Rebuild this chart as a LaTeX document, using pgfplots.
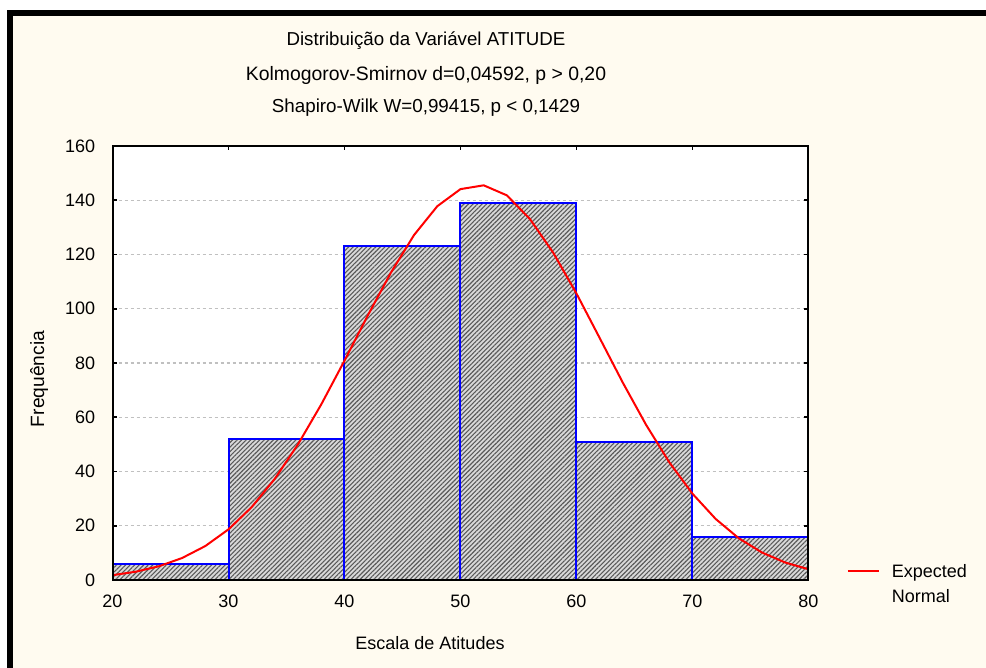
\documentclass[border=0pt]{standalone}
\usepackage{pgfplots}
\pgfplotsset{compat=1.18}
\usepackage{fontspec}
\setmainfont{Liberation Sans}
\usetikzlibrary{patterns.meta}
\definecolor{cream}{RGB}{255,251,240}
\definecolor{gridgray}{RGB}{192,192,192}
\begin{document}
\fontsize{9}{11}\selectfont
\begin{tikzpicture}
\fill[white] (0,0) rectangle (493pt,334pt);
\fill[cream] (3.5pt,0) rectangle (493pt,329pt);
\fill[black] (3.5pt,0) rectangle (6.5pt,329pt);
\fill[black] (3.5pt,326pt) rectangle (493pt,329pt);
\begin{axis}[
  at={(56.25pt,44pt)}, anchor=south west,
  scale only axis, width=348pt, height=217pt,
  xmin=20, xmax=80, ymin=0, ymax=160,
  xtick={20,30,...,80}, ytick={0,20,...,160},
  axis background/.style={fill=white},
  axis line style={line width=1pt},
  tick style={black, line width=0.8pt},
  major tick length=2pt,
  tick align=inside,
  ymajorgrids,
  grid style={gridgray, dash pattern=on 1.5pt off 1.5pt, line width=0.6pt},
  font=\fontsize{9}{11}\selectfont,
  /pgf/number format/assume math mode=true,
  xticklabel style={inner sep=0pt, anchor=north, yshift=-7.5pt},
  yticklabel style={inner sep=0pt, anchor=east, xshift=-8.5pt},
  legend style={at={(axis description cs:1.0546,0.0369)}, anchor=north west,
    draw=none, fill=none, inner sep=0pt, row sep=5.5pt, column sep=6pt,
    nodes={inner sep=0pt, text height=6.5pt, text depth=0.5pt},
    font=\fontsize{9}{11}\selectfont},
  legend cell align=left,
  legend image code/.code={\draw[#1] (0pt,0pt) -- (15.5pt,0pt);},
  after end axis/.code={\draw[black, line width=1pt] (rel axis cs:0,0) rectangle (rel axis cs:1,1);},
]
\addplot[ybar interval, draw=blue, line width=1pt, fill=gray!30,
  postaction={pattern={Lines[angle=45,distance=1.6pt,line width=0.55pt]}, pattern color=gray!70!black},
  forget plot]
  coordinates {(20,6) (30,52) (40,123) (50,139) (60,51) (70,16) (80,16)};
\addplot[red, line width=1pt] coordinates {
(20,1.77) (22,3.05) (24,5.06) (26,8.10) (28,12.51) (30,18.67) (32,26.87) (34,37.35)
(36,50.07) (38,64.76) (40,80.87) (42,97.46) (44,113.3) (46,127.2) (48,137.8) (50,144.1)
(52,145.5) (54,141.8) (56,133.0) (58,120.6) (60,105.6) (62,89.2) (64,72.7) (66,57.2)
(68,43.4) (70,31.8) (72,22.5) (74,15.35) (76,10.11) (78,6.43) (80,3.95)};
\addlegendentry{Expected}
\addlegendimage{empty legend}
\addlegendentry{Normal}
\end{axis}
\node[anchor=base, font=\fontsize{9.35}{11}\selectfont] at (213pt,311pt) {Distribuição da Variável ATITUDE};
\node[anchor=base, font=\fontsize{9.7}{11}\selectfont] at (213pt,293.5pt) {Kolmogorov-Smirnov d=0,04592, p > 0,20};
\node[anchor=base, font=\fontsize{9.4}{11}\selectfont] at (213pt,277.5pt) {Shapiro-Wilk W=0,99415, p < 0,1429};
\node[anchor=base] at (215pt,9pt) {Escala de Atitudes};
\node[anchor=base, rotate=90, font=\fontsize{9.6}{11}\selectfont] at (22pt,144.5pt) {Frequência};
\end{tikzpicture}
\end{document}
